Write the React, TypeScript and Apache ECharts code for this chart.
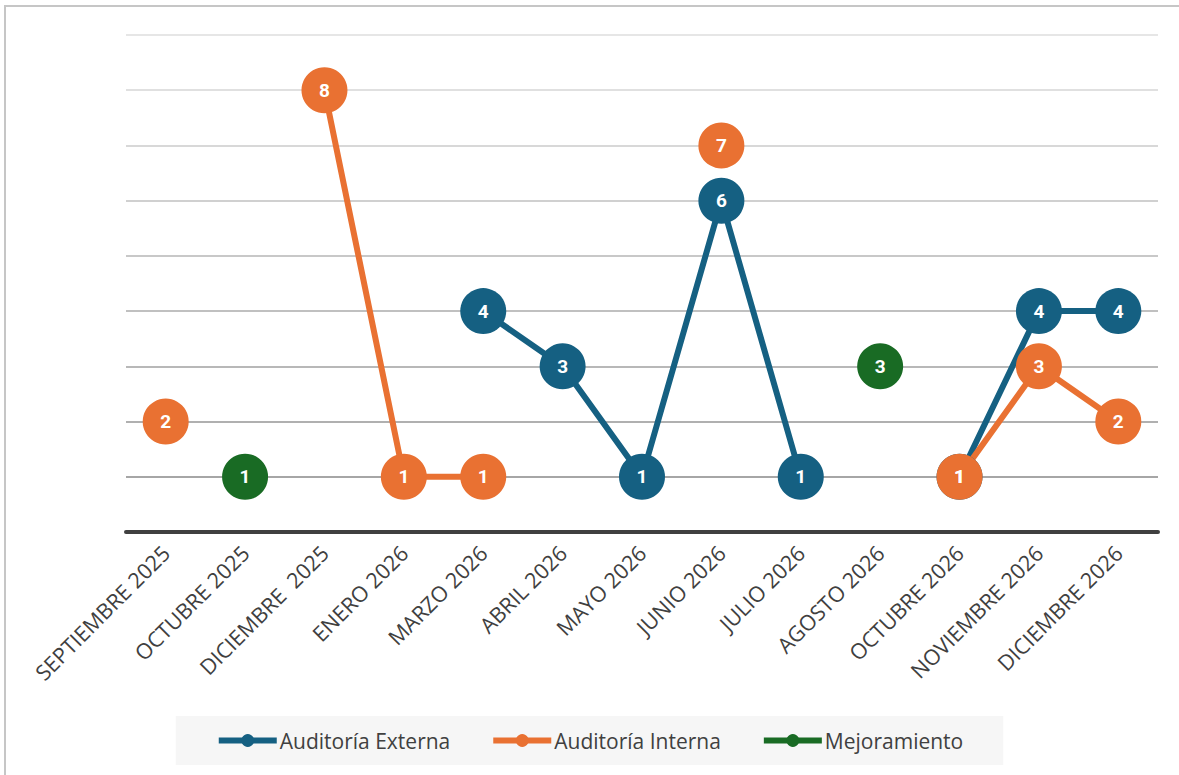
import React, { useEffect, useRef } from "react";
import * as echarts from "echarts";

const categories = [
  "SEPTIEMBRE 2025",
  "OCTUBRE 2025",
  "DICIEMBRE  2025",
  "ENERO 2026",
  "MARZO 2026",
  "ABRIL 2026",
  "MAYO 2026",
  "JUNIO 2026",
  "JULIO 2026",
  "AGOSTO 2026",
  "OCTUBRE 2026",
  "NOVIEMBRE 2026",
  "DICIEMBRE 2026",
];

const externa = [null, null, null, null, 4, 3, 1, 6, 1, null, 1, 4, 4];
const interna = [2, null, 8, 1, 1, null, null, 7, null, null, 1, 3, 2];
const mejoramiento = [null, 1, null, null, null, null, null, null, null, 3, null, null, null];

const seriesNames = ["Auditoría Externa", "Auditoría Interna", "Mejoramiento"];
const colors = ["#156082", "#E97132", "#196B24"];

export default function App() {
  const ref = useRef<HTMLDivElement>(null);
  useEffect(() => {
    const chart = echarts.init(ref.current!, null, { renderer: "svg" });
    const mk = (name: string, data: (number | null)[], color: string) => ({
      name,
      type: "line",
      data,
      symbol: "circle",
      symbolSize: 46,
      connectNulls: false,
      itemStyle: { color },
      lineStyle: { color, width: 6 },
      label: {
        show: true,
        position: "inside",
        color: "#ffffff",
        fontWeight: "bold",
        fontSize: 19,
        fontFamily: "Roboto, sans-serif",
      },
      labelLayout: { hideOverlap: false },
    });
    chart.setOption({
      animation: false,
      backgroundColor: "#ffffff",
      graphic: [
        {
          type: "rect",
          shape: { x: 5, y: 6, width: 1300, height: 900 },
          style: { fill: "none", stroke: "#c6c6c6", lineWidth: 2 },
          silent: true,
          z: -10,
        },
      ],
      grid: { left: 126, right: 21, top: 35, bottom: 243 },
      xAxis: {
        type: "category",
        data: categories,
        boundaryGap: true,
        axisLine: { show: true, lineStyle: { color: "#404040", width: 4 } },
        axisTick: { show: false },
        axisLabel: {
          rotate: 45,
          interval: 0,
          color: "#404040",
          fontSize: 21.5,
          fontFamily: "Open Sans, sans-serif",
          margin: 17,
        },
      },
      yAxis: {
        type: "value",
        min: 0,
        max: 9,
        interval: 1,
        axisLine: { show: false },
        axisTick: { show: false },
        axisLabel: { show: false },
        splitLine: {
          lineStyle: {
            width: 2,
            color: [
              "#a6a6a6",
              "#a6a6a6",
              "#b0b0b0",
              "#b8b8b8",
              "#c0c0c0",
              "#c8c8c8",
              "#d0d0d0",
              "#d8d8d8",
              "#e0e0e0",
              "#e6e6e6",
            ],
          },
        },
      },
      legend: {
        bottom: 10,
        left: "center",
        backgroundColor: "#f6f6f6",
        padding: [14, 40, 14, 40],
        itemWidth: 58,
        itemHeight: 16,
        itemGap: 40,
        lineStyle: { width: 6 },
        textStyle: {
          color: "#404040",
          fontSize: 21,
          fontFamily: "Open Sans, sans-serif",
          padding: [0, 0, 0, -2],
        },
        data: seriesNames,
      },
      series: [
        mk(seriesNames[0], externa, colors[0]),
        mk(seriesNames[1], interna, colors[1]),
        mk(seriesNames[2], mejoramiento, colors[2]),
      ],
    });
    return () => chart.dispose();
  }, []);
  return (
    <div
      ref={ref}
      style={{ position: "absolute", left: 0, top: 0, width: 1179, height: 775 }}
    />
  );
}
